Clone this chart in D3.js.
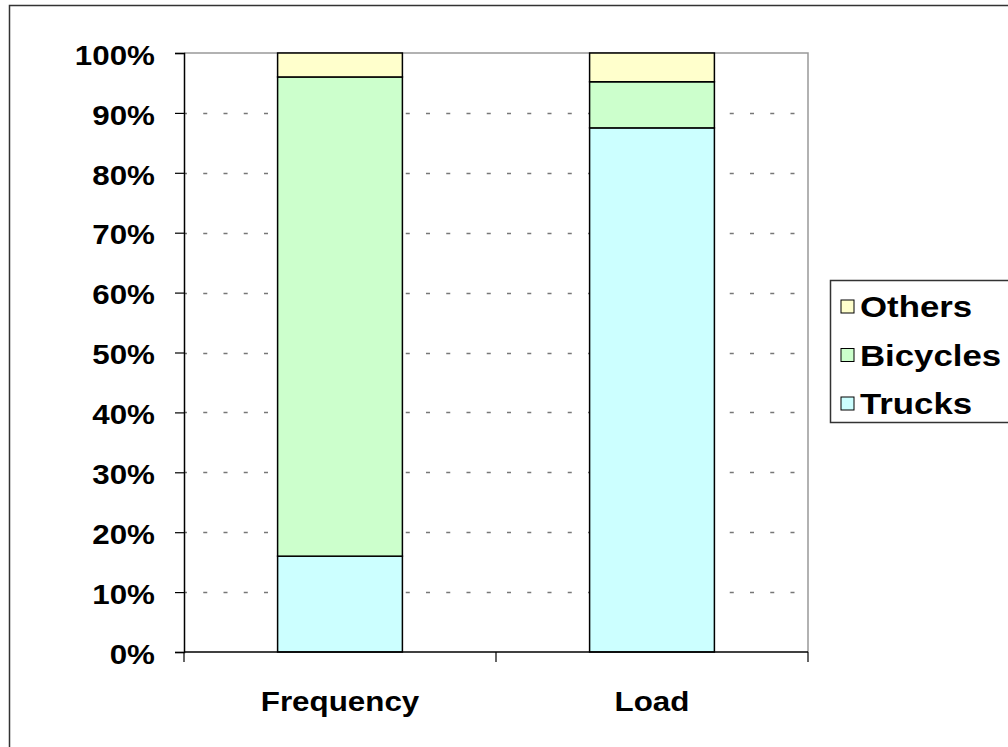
<!DOCTYPE html>
<html><head><meta charset="utf-8">
<script src="https://cdn.jsdelivr.net/npm/d3@7"></script>
<style>body{margin:0;background:#fff}svg{display:block}text{font-family:"Liberation Sans",Arial,sans-serif;font-weight:bold}</style>
</head><body>
<svg id="c" width="1008" height="747"></svg>
<script>
const categories = ["Frequency", "Load"];
const seriesNames = ["Trucks", "Bicycles", "Others"];
const trucks = [16, 87.5];
const bicycles = [80, 7.7];
const others = [4, 4.8];
const colors = ["#CCFFFF", "#CCFFCC", "#FFFFCC"];
const yTicks = [0, 10, 20, 30, 40, 50, 60, 70, 80, 90, 100];
const legendOrder = ["Others", "Bicycles", "Trucks"];

const svg = d3.select("#c");
const L = 184, R = 808, T = 53, B = 652;
const FS = 28, SX = 1.12;

// outer frame
svg.append("rect").attr("x", 9.5).attr("y", 5.5).attr("width", 1010).attr("height", 760)
  .attr("fill", "none").attr("stroke", "#333").attr("stroke-width", 1.5);

const x = d3.scaleBand().domain(categories).range([L, R]).paddingInner(0).paddingOuter(0);
const y = d3.scaleLinear().domain([0, 100]).range([B, T]);

// gridlines
svg.append("g").selectAll("line").data(yTicks.filter(d => d > 0 && d < 100)).join("line")
  .attr("x1", L).attr("x2", R).attr("y1", d => Math.round(y(d)) + 0.5).attr("y2", d => Math.round(y(d)) + 0.5)
  .attr("stroke", "#777").attr("stroke-width", 1.3)
  .attr("stroke-dasharray", "4,16.25").attr("stroke-dashoffset", 1);

// plot border top/right
svg.append("path").attr("d", `M${L},${T}H${R}V${B}`).attr("fill", "none")
  .attr("stroke", "#999").attr("stroke-width", 1.5);

// stacked bars
const rows = categories.map((c, i) => ({cat: c, Trucks: trucks[i], Bicycles: bicycles[i], Others: others[i]}));
const stack = d3.stack().keys(seriesNames)(rows);
const bw = x.bandwidth() * 0.4;
stack.forEach((s, si) => {
  svg.append("g").selectAll("rect").data(s).join("rect")
    .attr("x", d => x(d.data.cat) + x.bandwidth() / 2 - bw / 2)
    .attr("width", bw)
    .attr("y", d => y(d[1]))
    .attr("height", d => y(d[0]) - y(d[1]))
    .attr("fill", colors[si]).attr("stroke", "#000").attr("stroke-width", 1.5);
});

// y axis
const ya = svg.append("g").attr("transform", `translate(${L},0)`)
  .call(d3.axisLeft(y).tickValues(yTicks).tickFormat(d => d + "%").tickSize(9).tickPadding(0));
ya.select(".domain").attr("stroke", "#000").attr("stroke-width", 1.5);
ya.selectAll(".tick line").attr("stroke", "#000").attr("stroke-width", 1.2);
ya.selectAll(".tick text").attr("font-size", FS).attr("fill", "#000").attr("font-weight", "bold")
  .attr("font-family", '"Liberation Sans",Arial,sans-serif')
  .attr("x", 0).attr("dy", "0.4em")
  .attr("transform", `translate(-29,0) scale(${SX},1)`);

// x axis
const xa = svg.append("g").attr("transform", `translate(0,${B})`)
  .call(d3.axisBottom(x).tickSize(0).tickPadding(0));
xa.select(".domain").remove();
svg.append("line").attr("x1", L).attr("x2", R).attr("y1", B).attr("y2", B).attr("stroke", "#000").attr("stroke-width", 1.5);
const bounds = [L, ...categories.map(c => x(c) + x.bandwidth())];
svg.append("g").selectAll("line").data(bounds).join("line")
  .attr("x1", d => d).attr("x2", d => d).attr("y1", B).attr("y2", B + 10)
  .attr("stroke", "#000").attr("stroke-width", 1.2);
xa.selectAll(".tick text").attr("font-size", FS).attr("fill", "#000").attr("font-weight", "bold")
  .attr("font-family", '"Liberation Sans",Arial,sans-serif')
  .attr("y", 0).attr("dy", 0)
  .attr("transform", `translate(0,59) scale(${SX},1)`);

// legend
const lg = svg.append("g");
lg.append("rect").attr("x", 830.5).attr("y", 280.5).attr("width", 200).attr("height", 142)
  .attr("fill", "#fff").attr("stroke", "#333").attr("stroke-width", 1.5);
legendOrder.forEach((name, i) => {
  const ci = seriesNames.indexOf(name);
  const gy = 300 + i * 48.5;
  lg.append("rect").attr("x", 841).attr("y", gy).attr("width", 13).attr("height", 13)
    .attr("fill", colors[ci]).attr("stroke", "#000").attr("stroke-width", 1);
  lg.append("text").text(name).attr("font-size", 30).attr("fill", "#000")
    .attr("transform", `translate(860,${gy + 17}) scale(1.16,1)`);
});
</script>
</body></html>
